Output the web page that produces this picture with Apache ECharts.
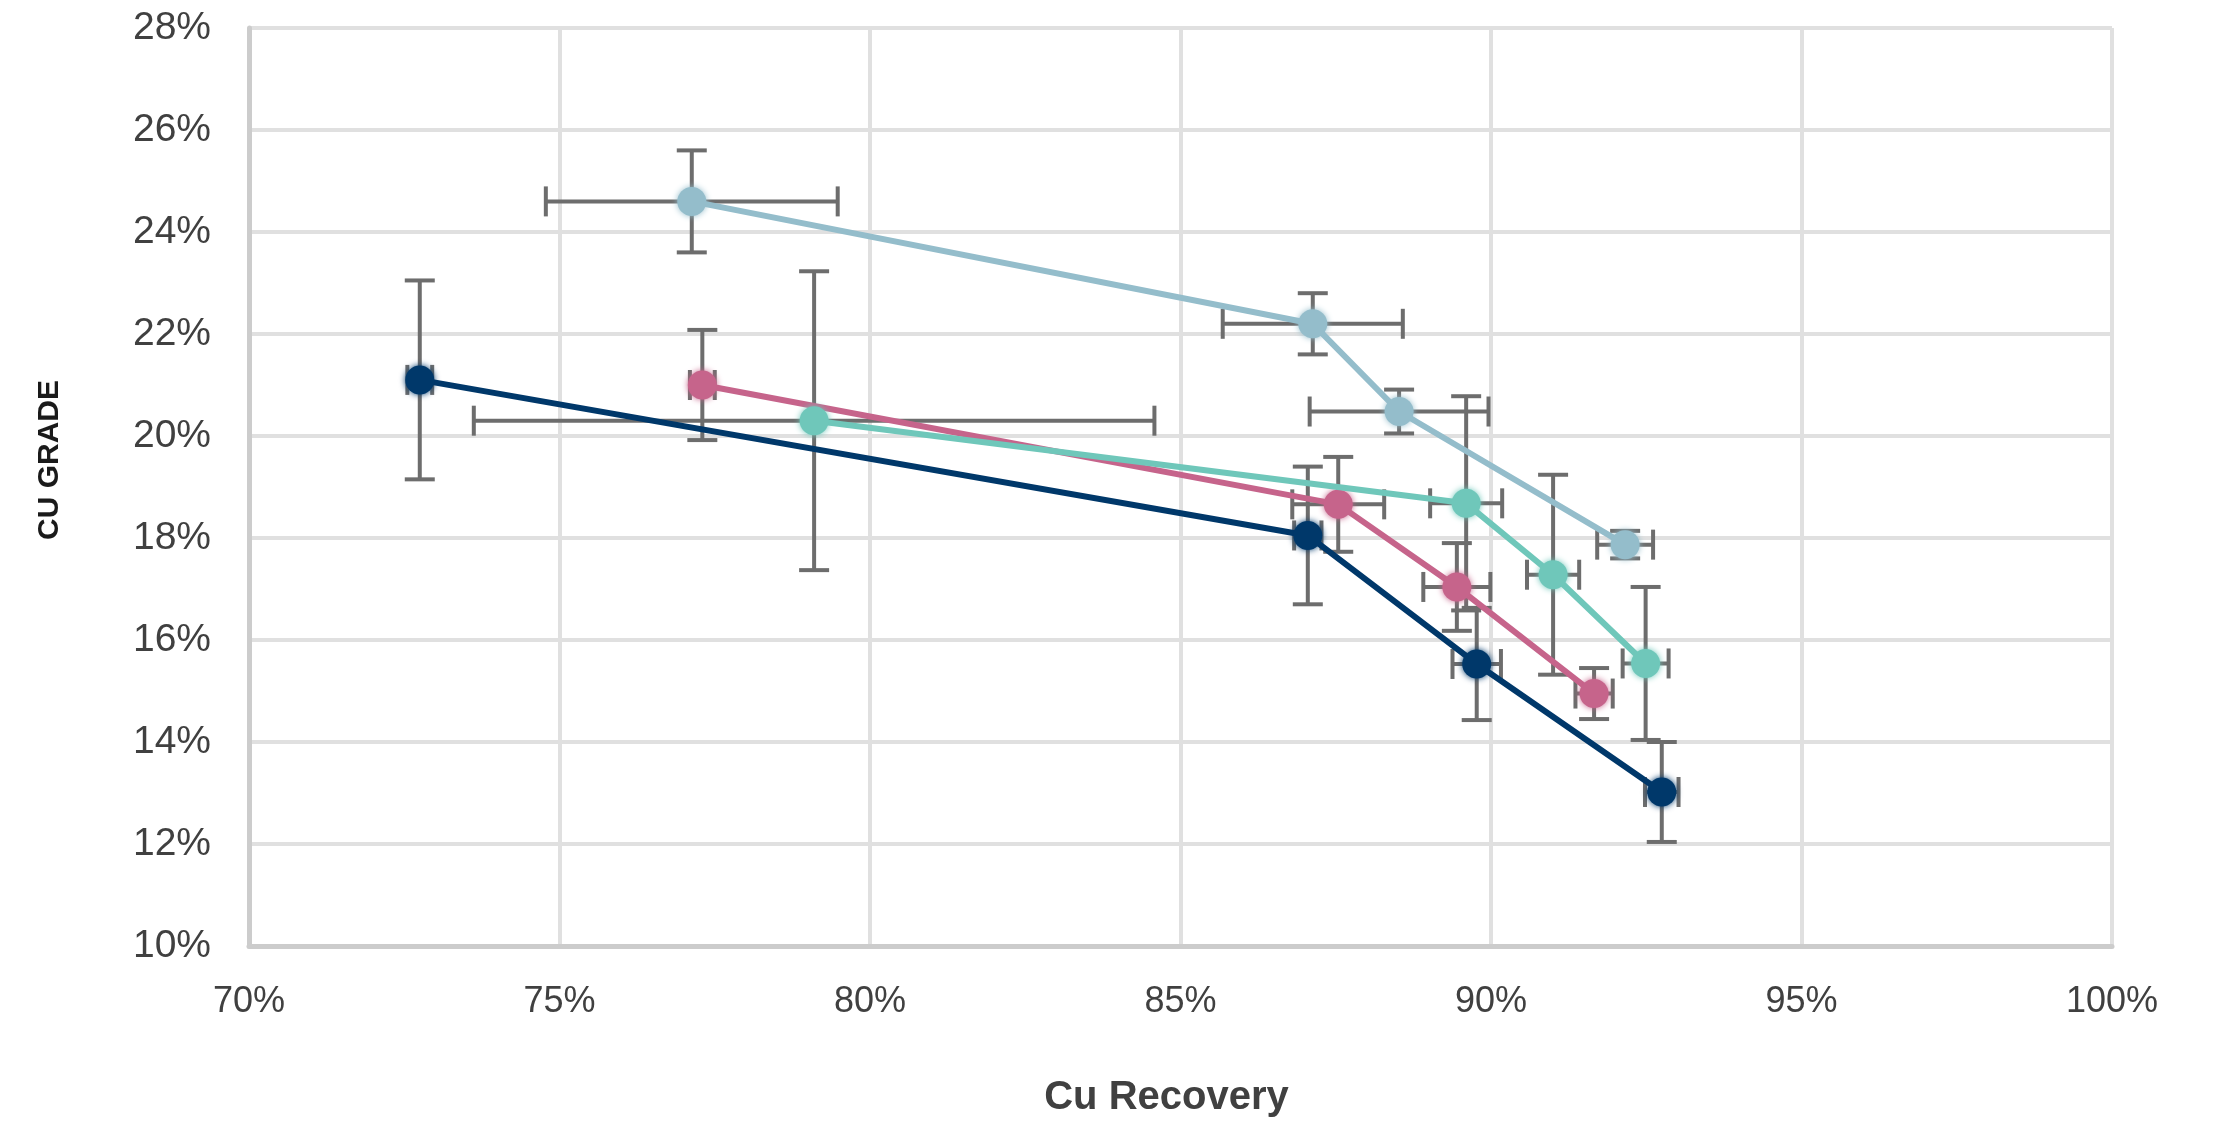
<!DOCTYPE html>
<html>
<head>
<meta charset="utf-8">
<script src="https://cdn.jsdelivr.net/npm/echarts@6/dist/echarts.min.js"></script>
<style>
  html, body { margin: 0; padding: 0; background: #ffffff; }
  #chart { width: 2216px; height: 1126px; }
</style>
</head>
<body>
<div id="chart"></div>
<script>
// ---- Data (values in %) ----
const seriesNames = ['Series 1', 'Series 2', 'Series 3', 'Series 4'];
const seriesColors = ['#00386a', '#c6648b', '#6fc7ba', '#94bdcb'];

const navyX    = [72.75, 87.05, 89.77, 92.75];
const navyY    = [21.10, 18.05, 15.53, 13.02];
const navyXErr = [0.20, 0.22, 0.39, 0.27];
const navyYErr = [1.95, 1.35, 1.10, 0.98];

const pinkX    = [77.30, 87.54, 89.45, 91.66];
const pinkY    = [21.00, 18.66, 17.04, 14.95];
const pinkXErr = [0.20, 0.74, 0.54, 0.30];
const pinkYErr = [1.08, 0.93, 0.86, 0.50];

const tealX    = [79.10, 89.60, 91.00, 92.49];
const tealY    = [20.30, 18.68, 17.28, 15.54];
const tealXErr = [5.48, 0.58, 0.42, 0.37];
const tealYErr = [2.93, 2.10, 1.96, 1.50];

const blueX    = [77.13, 87.13, 88.52, 92.16];
const blueY    = [24.60, 22.20, 20.48, 17.87];
const blueXErr = [2.35, 1.45, 1.44, 0.45];
const blueYErr = [1.00, 0.60, 0.43, 0.27];

const xTicks = [70, 75, 80, 85, 90, 95, 100];
const yTicks = [10, 12, 14, 16, 18, 20, 22, 24, 26, 28];

const groups = [
  [navyX, navyY, navyXErr, navyYErr],
  [pinkX, pinkY, pinkXErr, pinkYErr],
  [tealX, tealY, tealXErr, tealYErr],
  [blueX, blueY, blueXErr, blueYErr]
];

// ---- Build ----
const chart = echarts.init(document.getElementById('chart'), null, { renderer: 'canvas' });

function renderErr(params, api) {
  const x = api.value(0), y = api.value(1), ex = api.value(2), ey = api.value(3);
  const c = api.coord([x, y]);
  const l = api.coord([x - ex, y]);
  const r = api.coord([x + ex, y]);
  const t = api.coord([x, y + ey]);
  const b = api.coord([x, y - ey]);
  const cap = 15;
  const st = { stroke: '#6d6d6d', lineWidth: 4 };
  const line = (x1, y1, x2, y2) => ({ type: 'line', shape: { x1, y1, x2, y2 }, style: st });
  return {
    type: 'group',
    children: [
      line(l[0], c[1], r[0], c[1]),
      line(l[0], c[1] - cap, l[0], c[1] + cap),
      line(r[0], c[1] - cap, r[0], c[1] + cap),
      line(c[0], t[1], c[0], b[1]),
      line(c[0] - cap, t[1], c[0] + cap, t[1]),
      line(c[0] - cap, b[1], c[0] + cap, b[1])
    ]
  };
}

const series = [];
groups.forEach((g, i) => {
  series.push({
    type: 'custom',
    name: seriesNames[i] + ' err',
    renderItem: renderErr,
    data: g[0].map((v, k) => [v, g[1][k], g[2][k], g[3][k]]),
    encode: { x: 0, y: 1 },
    z: 1,
    clip: false,
    silent: true
  });
});
groups.forEach((g, i) => {
  series.push({
    type: 'line',
    name: seriesNames[i],
    data: g[0].map((v, k) => [v, g[1][k]]),
    symbol: 'circle',
    symbolSize: 29,
    lineStyle: { color: seriesColors[i], width: 6 },
    itemStyle: { color: seriesColors[i], shadowBlur: 6, shadowColor: seriesColors[i] },
    z: 3 + i
  });
});

const option = {
  animation: false,
  backgroundColor: '#ffffff',
  grid: { left: 249, right: 104, top: 28, bottom: 180, containLabel: false },
  xAxis: {
    type: 'value',
    min: xTicks[0], max: xTicks[xTicks.length - 1], interval: 5,
    name: 'Cu Recovery',
    nameLocation: 'middle',
    nameGap: 132,
    nameTextStyle: { fontFamily: 'Liberation Sans', fontWeight: 'bold', fontSize: 40, color: '#404040', padding: [0, 28, 0, 0] },
    axisLine: { show: true, lineStyle: { color: '#cccccc', width: 5 } },
    axisTick: { show: false },
    axisLabel: { formatter: '{value}%', fontFamily: 'Liberation Sans', fontSize: 36, color: '#404040', margin: 38 },
    splitLine: { show: true, lineStyle: { color: '#e0e0e0', width: 4 } }
  },
  yAxis: {
    type: 'value',
    min: yTicks[0], max: yTicks[yTicks.length - 1], interval: 2,
    axisLine: { show: true, lineStyle: { color: '#cccccc', width: 5 } },
    axisTick: { show: false },
    axisLabel: { formatter: '{value}%', fontFamily: 'Liberation Sans', fontSize: 39, color: '#404040', margin: 38 },
    splitLine: { show: true, lineStyle: { color: '#e0e0e0', width: 4 } }
  },
  graphic: [{
    type: 'text',
    x: 50, y: 460,
    rotation: Math.PI / 2,
    style: {
      text: 'CU GRADE',
      fontFamily: 'Liberation Sans', fontWeight: 'bold', fontSize: 30,
      fill: '#1a1a1a', textAlign: 'center', textVerticalAlign: 'middle'
    }
  }],
  series: series
};
chart.setOption(option);
</script>
</body>
</html>
